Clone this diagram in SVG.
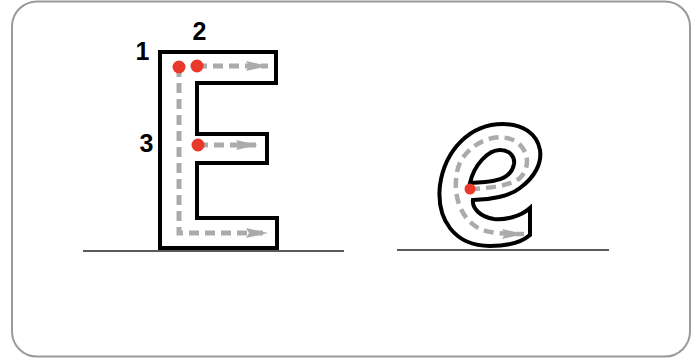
<svg xmlns="http://www.w3.org/2000/svg" width="698" height="359" viewBox="0 0 698 359">
  <style>
    .outline { fill: #ffffff; stroke: #000000; stroke-width: 4; stroke-linejoin: miter; }
    .trace { fill: none; stroke: #ababab; stroke-width: 5; stroke-dasharray: 10 6; }
    .dot { fill: #e8392a; }
    .num { font-family: "Liberation Sans", Arial, sans-serif; font-weight: bold; font-size: 25px; fill: #000; text-anchor: middle; }
    .base { stroke: #5a5a5a; stroke-width: 2; }
  </style>
  <defs>
    <marker id="arr" markerUnits="userSpaceOnUse" markerWidth="22" markerHeight="12" refX="22" refY="6" orient="auto">
      <polygon points="0,1 22,6 0,11 3,6" fill="#ababab"/>
    </marker>
  </defs>
  <rect x="12" y="1.5" width="678" height="355" rx="25" ry="25" fill="#ffffff" stroke="#9a9a9a" stroke-width="2"/>

  <line class="base" x1="83" y1="251" x2="344" y2="251"/>
  <line class="base" x1="397" y1="250" x2="609" y2="250"/>

  <g id="letter-E">
    <path class="outline" d="M160 52 H276 V83 H197 V134 H267 V163 H197 V218 H277 V248 H160 Z"/>
  </g>

  <g id="letter-e">
    <path class="outline" d="M530 208 C520 217 505 220 494 219 C480 217 472 208 473 200 C490 200 510 196 520 188 C535 177 542 163 540 150 C537 133 522 124 503 124 C470 124 445 150 440 185 C436 220 455 246 490 246 C508 246 522 242 530 235 Z"/>
    <path class="outline" d="M470 183 C474 165 488 150 500 150 C510 150 515 157 514 164 C512 176 500 181 485 182 Z"/>
  </g>

  <g id="connectors">
    <path class="trace" d="M179 67 V233 H268" marker-end="url(#arr)"/>
    <path class="trace" d="M197 66 H268" marker-end="url(#arr)"/>
    <path class="trace" d="M198 145 H258" marker-end="url(#arr)"/>
    <path class="trace" style="stroke-width:4.5" d="M470 189 C490 188 510 186 520 178 C530 168 530 150 515 141 C495 130 465 145 458 168 C452 190 458 218 480 229 C492 234 508 234 524 234" marker-end="url(#arr)"/>
  </g>

  <g id="dots">
    <circle class="dot" cx="179" cy="67" r="6.5"/>
    <circle class="dot" cx="197" cy="66" r="6.5"/>
    <circle class="dot" cx="198" cy="145" r="6.5"/>
    <circle class="dot" cx="470" cy="189" r="5.5"/>
  </g>

  <g id="labels">
    <text class="num" x="142.5" y="60">1</text>
    <text class="num" x="199.5" y="40">2</text>
    <text class="num" x="146.5" y="152">3</text>
  </g>
</svg>
